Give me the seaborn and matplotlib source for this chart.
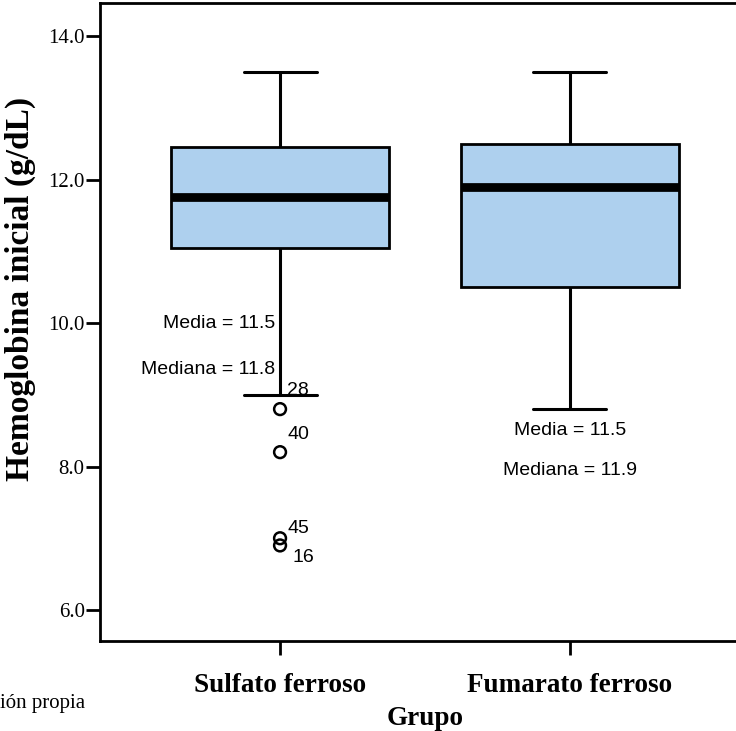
import numpy as np
import pandas as pd
import matplotlib
matplotlib.use("Agg")
import matplotlib.pyplot as plt
import seaborn as sns

# Groups and five-number summaries of initial haemoglobin (g/dL)
groups = ["Sulfato ferroso", "Fumarato ferroso"]
whisker_low = [9.0, 8.8]
q1 = [11.05, 10.5]
median = [11.75, 11.9]
q3 = [12.45, 12.5]
whisker_high = [13.5, 13.5]
means = [11.5, 11.5]

# Outlying cases (case number and value)
outlier_group = ["Sulfato ferroso", "Sulfato ferroso", "Sulfato ferroso", "Sulfato ferroso"]
outlier_values = [8.8, 8.2, 7.0, 6.9]
outlier_ids = ["28", "40", "45", "16"]

y_ticks = [6.0, 8.0, 10.0, 12.0, 14.0]

# Long-form table from the summaries
rows = []
for g, a, b, c, d, e in zip(groups, whisker_low, q1, median, q3, whisker_high):
    for v in (a, b, c, d, e):
        rows.append({"Grupo": g, "Hb": v})
box_df = pd.DataFrame(rows)
out_df = pd.DataFrame({"Grupo": outlier_group, "Hb": outlier_values})

sns.set_style("ticks")
plt.rcParams["font.family"] = ["Liberation Serif", "DejaVu Serif"]
plt.rcParams["text.color"] = "black"
plt.rcParams["axes.labelcolor"] = "black"
plt.rcParams["xtick.color"] = "black"
plt.rcParams["ytick.color"] = "black"

fig = plt.figure(figsize=(7.36, 7.31), dpi=100)
ax = fig.add_axes([100 / 736, 1 - 641 / 731, 650 / 736, 638 / 731])

box_color = "#aed0ee"
sns.boxplot(
    data=box_df, x="Grupo", y="Hb", order=groups, ax=ax,
    color=box_color, saturation=1, width=0.75, whis=(0, 100),
    linecolor="black", linewidth=2.0, showfliers=False,
    medianprops={"color": "black", "linewidth": 6.3, "solid_capstyle": "butt"},
    whiskerprops={"linewidth": 2.2},
    capprops={"linewidth": 2.2},
)

# Shorter whisker caps
for ln in ax.lines:
    xd = np.asarray(ln.get_xdata(), dtype=float)
    yd = np.asarray(ln.get_ydata(), dtype=float)
    if len(xd) == 2 and yd[0] == yd[1] and abs(abs(xd[1] - xd[0]) - 0.375) < 0.01:
        cx = xd.mean()
        ln.set_xdata([cx - 0.126, cx + 0.126])

sns.stripplot(
    data=out_df, x="Grupo", y="Hb", order=groups, ax=ax,
    jitter=False, size=8.5, color="black", linewidth=1.5,
)
for coll in ax.collections:
    coll.set_facecolor("none")
    coll.set_edgecolor("black")
    coll.set_linewidth(1.8)

# Case numbers beside the outlying points
id_offsets = [(7, 19), (7, 18), (7, 10), (12, -12)]
for g, v, lab, (dx, dy) in zip(outlier_group, outlier_values, outlier_ids, id_offsets):
    ax.annotate(lab, xy=(groups.index(g), v), xytext=(dx, dy), textcoords="offset pixels",
                ha="left", va="center", fontsize=14, color="black",
                family=["Liberation Sans", "DejaVu Sans"])

# Mean and median notes
note_y = [(10.0, 9.35), (8.5, 7.94)]
note_ha = ["right", "center"]
note_dx = [-5, 0]
for i, g in enumerate(groups):
    for txt, yy in zip((f"Media = {means[i]:.1f}", f"Mediana = {median[i]:.1f}"), note_y[i]):
        ax.annotate(txt, xy=(i, yy), xytext=(note_dx[i], 0), textcoords="offset pixels",
                    ha=note_ha[i], va="center", fontsize=14, color="black",
                    family=["Liberation Sans", "DejaVu Sans"])

ax.set_xlim(-0.621, 1.621)
ax.set_ylim(5.568, 14.46)
ax.set_yticks(y_ticks)
ax.set_yticklabels([f"{t:.1f}" for t in y_ticks], fontsize=15)
ax.set_xticks(range(len(groups)))
ax.set_xticklabels(groups, fontsize=19.5, fontweight="bold")
ax.tick_params(axis="both", length=10, width=2, color="black", labelcolor="black",
               direction="out")
ax.tick_params(axis="y", pad=1)
ax.tick_params(axis="x", pad=13)
ax.set_xlabel("")
ax.set_ylabel("")
for sp in ax.spines.values():
    sp.set_linewidth(2)
    sp.set_color("black")

fig.text(20 / 736, 1 - 289 / 731, "Hemoglobina inicial (g/dL)", rotation=90,
         ha="center", va="center", fontsize=24, fontweight="bold", color="black")
fig.text(425 / 736, 1 - 725 / 731, "Grupo", ha="center", va="baseline",
         fontsize=19.5, fontweight="bold", color="black")
fig.text(0.0, 1 - 708 / 731, "ión propia", ha="left",
         va="baseline", fontsize=15, color="black")

fig.savefig("out.png", dpi=100)
